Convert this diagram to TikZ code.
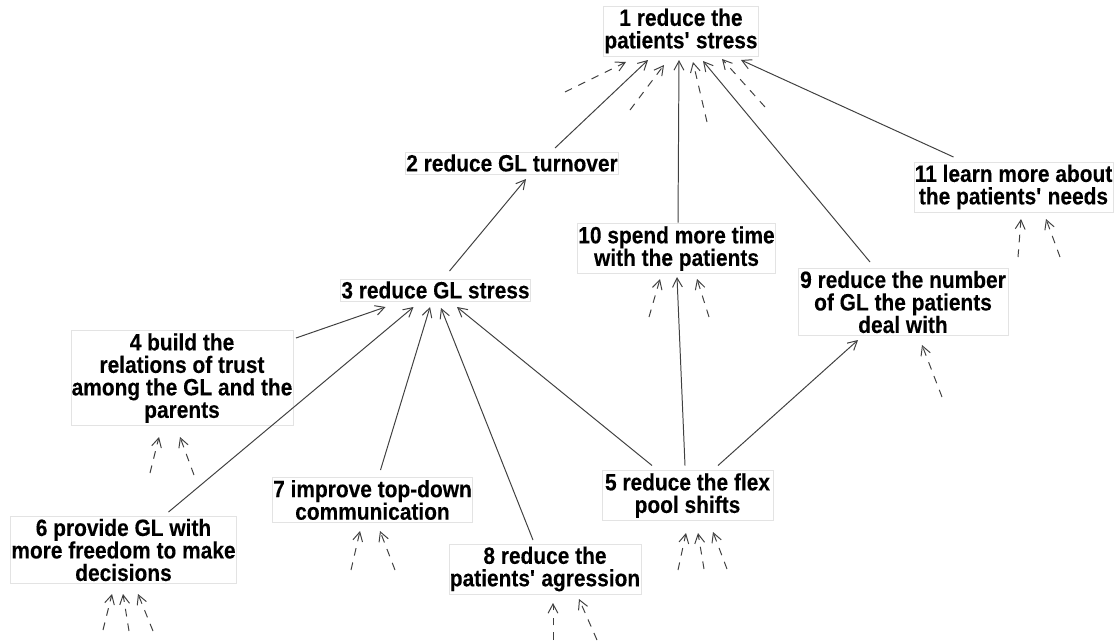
\documentclass[tikz,border=0pt]{standalone}
\usepackage{fontspec}
\setmainfont{Liberation Sans}
\newfontfamily\goalfont[FakeStretch=0.885, FakeBold=0.12]{Liberation Sans}
\usetikzlibrary{arrows.meta,calc}

\begin{document}
\begin{tikzpicture}[x=0.025cm, y=-0.025cm, >={Straight Barb[length=6.5pt,width=7pt]},
    goal/.style={draw=gray!22, fill=white, align=center, inner xsep=0.5pt, inner ysep=1.8pt,
      font=\goalfont\bfseries\fontsize{16.8}{16}\selectfont},
    link/.style={->, draw=black!75, line width=0.7pt},
    stub/.style={->, draw=black!75, line width=0.7pt, dash pattern=on 5.5pt off 5pt}]

    \useasboundingbox (0,0) rectangle (1116,641);

    % Ziele
    \node[goal, minimum width=152*0.025cm] (n1) at (681,31) {1 reduce the\\patients\textquotesingle{} stress};
    \node[goal, minimum width=156*0.025cm] (n2) at (512,163) {2 reduce GL turnover};
    \node[goal, minimum width=187*0.025cm] (n3) at (435.5,290) {3 reduce GL stress};
    \node[goal, minimum width=220*0.025cm] (n4) at (182,378) {4 build the\\relations of trust\\among the GL and the\\parents};
    \node[goal, minimum width=171*0.025cm] (n5) at (687.5,495.5) {5 reduce the flex\\pool shifts};
    \node[goal, minimum width=223*0.025cm] (n6) at (123.5,550) {6 provide GL with\\more freedom to make\\decisions};
    \node[goal, minimum width=199*0.025cm] (n7) at (372.5,500) {7 improve top-down\\communication};
    \node[goal, minimum width=186*0.025cm] (n8) at (545,569) {8 reduce the\\patients\textquotesingle{} agression};
    \node[goal, minimum width=210*0.025cm] (n9) at (903,302) {9 reduce the number\\of GL the patients\\deal with};
    \node[goal, minimum width=197*0.025cm] (n10) at (676.5,248.5) {10 spend more time\\with the patients};
    \node[goal, minimum width=199*0.025cm] (n11) at (1013.5,187) {11 learn more about\\the patients\textquotesingle{} needs};

    % Pfeile
    \draw[link] ($(n2)+(43,-15)$) -- ($(n1)+(-33,29)$);
    \draw[link] ($(n10)+(1.5,-26)$) -- ($(n1)+(-2,29)$);
    \draw[link] ($(n9)+(-33,-40)$) -- ($(n1)+(22,30)$);
    \draw[link] ($(n11)+(-60,-30)$) -- ($(n1)+(60,29)$);
    \draw[link] ($(n3)+(14,-19)$) -- ($(n2)+(14,16)$);
    \draw[link] ($(n4)+(114,-40)$) -- ($(n3)+(-50,17)$);
    \draw[link] ($(n6)+(45,-38)$) -- ($(n3)+(-22,17)$);
    \draw[link] ($(n7)+(8,-30)$) -- ($(n3)+(-5.5,17)$);
    \draw[link] ($(n8)+(-12,-29)$) -- ($(n3)+(5.5,18)$);
    \draw[link] ($(n5)+(-35.5,-30)$) -- ($(n3)+(21.5,17)$);
    \draw[link] ($(n5)+(-2.5,-30)$) -- ($(n10)+(0.5,28.5)$);
    \draw[link] ($(n5)+(30.5,-30)$) -- ($(n9)+(-45,38)$);

    % offene Pfeile
    \draw[stub] ($(n1)+(-116,61)$) -- ($(n1)+(-55,31)$);
    \draw[stub] ($(n1)+(-51,79)$) -- ($(n1)+(-17,34)$);
    \draw[stub] ($(n1)+(26,91)$) -- ($(n1)+(12,31)$);
    \draw[stub] ($(n1)+(84,76)$) -- ($(n1)+(41,28)$);
    \draw[stub] ($(n4)+(-32,95)$) -- ($(n4)+(-23,59)$);
    \draw[stub] ($(n4)+(12,97)$) -- ($(n4)+(-2,59)$);
    \draw[stub] ($(n6)+(-20.5,80)$) -- ($(n6)+(-11.5,44)$);
    \draw[stub] ($(n6)+(5.5,81)$) -- ($(n6)+(-0.5,44)$);
    \draw[stub] ($(n6)+(29.5,81)$) -- ($(n6)+(14.5,44)$);
    \draw[stub] ($(n7)+(-21.5,70)$) -- ($(n7)+(-12.5,31)$);
    \draw[stub] ($(n7)+(22.5,70)$) -- ($(n7)+(7.5,31)$);
    \draw[stub] ($(n8)+(8,71)$) -- ($(n8)+(8,34)$);
    \draw[stub] ($(n8)+(52,71)$) -- ($(n8)+(34,30)$);
    \draw[stub] ($(n5)+(-9.5,74.5)$) -- ($(n5)+(-1.5,37.5)$);
    \draw[stub] ($(n5)+(16.5,73.5)$) -- ($(n5)+(10.5,37.5)$);
    \draw[stub] ($(n5)+(39.5,73.5)$) -- ($(n5)+(25.5,36.5)$);
    \draw[stub] ($(n10)+(-27.5,68.5)$) -- ($(n10)+(-16.5,30.5)$);
    \draw[stub] ($(n10)+(32.5,68.5)$) -- ($(n10)+(20.5,30.5)$);
    \draw[stub] ($(n9)+(39,95)$) -- ($(n9)+(19,43)$);
    \draw[stub] ($(n11)+(4.5,70)$) -- ($(n11)+(7.5,32)$);
    \draw[stub] ($(n11)+(46.5,70)$) -- ($(n11)+(32.5,32)$);

\end{tikzpicture}
\end{document}
